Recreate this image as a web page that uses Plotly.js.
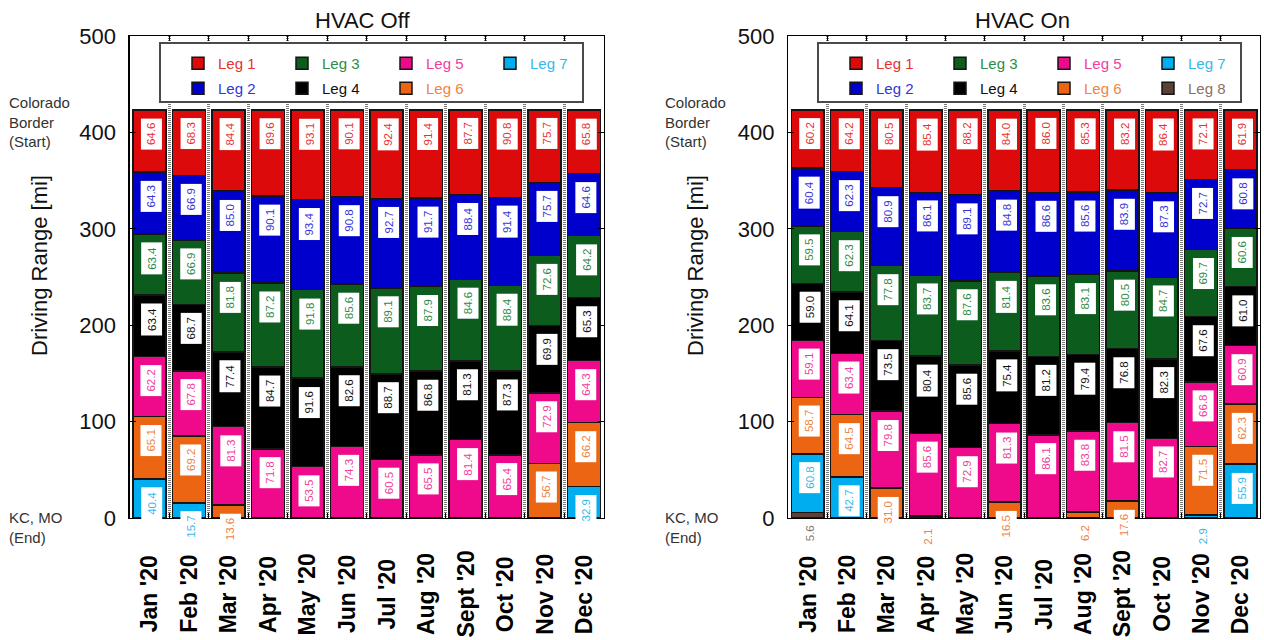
<!DOCTYPE html>
<html>
<head>
<meta charset="utf-8">
<script src="https://cdn.plot.ly/plotly-3.0.1.min.js"></script>
<style>
  html, body { margin: 0; padding: 0; background: #fff; }
  #chart { width: 1264px; height: 640px; }
</style>
</head>
<body>
<div id="chart"></div>
<script>
// Months of the trips
const months = ["Jan '20", "Feb '20", "Mar '20", "Apr '20", "May '20", "Jun '20",
                "Jul '20", "Aug '20", "Sept '20", "Oct '20", "Nov '20", "Dec '20"];
const legNames = ["Leg 1", "Leg 2", "Leg 3", "Leg 4", "Leg 5", "Leg 6", "Leg 7", "Leg 8"];

// Miles driven on each leg, HVAC off (null = leg not needed that month)
const offLeg1 = [64.6, 68.3, 84.4, 89.6, 93.1, 90.1, 92.4, 91.4, 87.7, 90.8, 75.7, 65.8];
const offLeg2 = [64.3, 66.9, 85.0, 90.1, 93.4, 90.8, 92.7, 91.7, 88.4, 91.4, 75.7, 64.6];
const offLeg3 = [63.4, 66.9, 81.8, 87.2, 91.8, 85.6, 89.1, 87.9, 84.6, 88.4, 72.6, 64.2];
const offLeg4 = [63.4, 68.7, 77.4, 84.7, 91.6, 82.6, 88.7, 86.8, 81.3, 87.3, 69.9, 65.3];
const offLeg5 = [62.2, 67.8, 81.3, 71.8, 53.5, 74.3, 60.5, 65.5, 81.4, 65.4, 72.9, 64.3];
const offLeg6 = [65.1, 69.2, 13.6, null, null, null, null, null, null, null, 56.7, 66.2];
const offLeg7 = [40.4, 15.7, null, null, null, null, null, null, null, null, null, 32.9];

// Miles driven on each leg, HVAC on
const onLeg1 = [60.2, 64.2, 80.5, 85.4, 88.2, 84.0, 86.0, 85.3, 83.2, 86.4, 72.1, 61.9];
const onLeg2 = [60.4, 62.3, 80.9, 86.1, 89.1, 84.8, 86.6, 85.6, 83.9, 87.3, 72.7, 60.8];
const onLeg3 = [59.5, 62.3, 77.8, 83.7, 87.6, 81.4, 83.6, 83.1, 80.5, 84.7, 69.7, 60.6];
const onLeg4 = [59.0, 64.1, 73.5, 80.4, 85.6, 75.4, 81.2, 79.4, 76.8, 82.3, 67.6, 61.0];
const onLeg5 = [59.1, 63.4, 79.8, 85.6, 72.9, 81.3, 86.1, 83.8, 81.5, 82.7, 66.8, 60.9];
const onLeg6 = [58.7, 64.5, 31.0, 2.1, null, 16.5, null, 6.2, 17.6, null, 71.5, 62.3];
const onLeg7 = [60.8, 42.7, null, null, null, null, null, null, null, null, 2.9, 55.9];
const onLeg8 = [5.6, null, null, null, null, null, null, null, null, null, null, null];

const offLegs = [offLeg1, offLeg2, offLeg3, offLeg4, offLeg5, offLeg6, offLeg7];
const onLegs = [onLeg1, onLeg2, onLeg3, onLeg4, onLeg5, onLeg6, onLeg7, onLeg8];

// Styling
const fillColors = ['#dc0a0a', '#0000cc', '#0b5c1d', '#000000', '#ee0a8a', '#ec6513', '#00aeef', '#5c4033'];
const textColors = ['#e8302f', '#3434dc', '#2e8b46', '#111111', '#f0409c', '#f0833f', '#35b8ee', '#8a7268'];
const FONT = 'Liberation Sans, Arial, Helvetica, sans-serif';
const W = 1264, H = 640;
const px = v => v / W;
const py = v => 1 - v / H;

// Stacked bars: Leg 1 sits on top (start of the drive), the last leg at the bottom
function buildTraces(legs, xa, ya, legendOdd, legendEven) {
  const traces = [];
  for (let k = legs.length - 1; k >= 0; k--) {
    traces.push({
      type: 'bar',
      x: months,
      y: legs[k],
      name: '<span style="color:' + textColors[k] + '">' + legNames[k] + '</span>',
      xaxis: xa, yaxis: ya,
      legend: (k % 2 === 0) ? legendOdd : legendEven,
      legendrank: k + 1,
      marker: { color: fillColors[k], line: { color: '#151515', width: 1.5 } },
      hoverinfo: 'skip'
    });
  }
  return traces;
}

// Value labels near the top of every segment
function segmentLabels(legs, xref, yref) {
  const anns = [];
  months.forEach((m, j) => {
    let top = 0;
    for (let k = legs.length - 1; k >= 0; k--) {
      const v = legs[k][j];
      if (v == null) continue;
      top += v;
      anns.push({
        xref: xref, yref: yref, x: m, y: top,
        xanchor: 'center', yanchor: 'top', xshift: 2, yshift: -8,
        textangle: -90, showarrow: false,
        text: v.toFixed(1),
        bgcolor: '#ffffff', borderpad: 4,
        font: { family: FONT, size: 11.5, color: textColors[k] }
      });
    }
  });
  return anns;
}

// Month names under each bar, centred on a common line
function monthLabels(xref) {
  return months.map(m => ({
    xref: xref, yref: 'paper', x: m, y: py(594),
    xanchor: 'center', yanchor: 'middle', textangle: -90, showarrow: false,
    text: '<b>' + m + '</b>',
    font: { family: FONT, size: 23, color: '#000' }
  }));
}

const data = buildTraces(offLegs, 'x', 'y', 'legend', 'legend3')
  .concat(buildTraces(onLegs, 'x2', 'y2', 'legend2', 'legend4'));

function xAxis(domain, anchor) {
  return {
    domain: domain, anchor: anchor, type: 'category',
    range: [-0.5, 11.5], tickson: 'boundaries',
    ticks: 'inside', ticklen: 5, tickcolor: '#000',
    showline: true, linecolor: '#000', linewidth: 1.2, mirror: 'ticks',
    showgrid: true, gridcolor: '#7a7a7a', gridwidth: 3, griddash: '1px,1px',
    showticklabels: false,
    fixedrange: true
  };
}
function yAxis(anchor) {
  return {
    domain: [py(518), py(36)], anchor: anchor,
    range: [0, 500], dtick: 100, tick0: 0,
    ticks: 'inside', ticklen: 6, tickcolor: '#000',
    showline: true, linecolor: '#000', linewidth: 1.2, mirror: 'ticks',
    showgrid: false, zeroline: false, ticklabelstandoff: 8,
    tickfont: { family: FONT, size: 22, color: '#111' },
    fixedrange: true
  };
}
function legendRow(xPix, yPix) {
  return {
    orientation: 'h', traceorder: 'normal',
    x: px(xPix), xanchor: 'left', y: py(yPix), yanchor: 'top',
    entrywidth: 59, bgcolor: 'rgba(0,0,0,0)', borderwidth: 0,
    font: { family: FONT, size: 15, color: '#111' },
    itemclick: false, itemdoubleclick: false
  };
}

const RIGHT = 656; // horizontal offset of the second panel's side texts

function sideTexts(dx) {
  const base = { xref: 'paper', yref: 'paper', showarrow: false, xanchor: 'left', align: 'left',
                 font: { family: FONT, size: 15, color: '#333' } };
  return [
    Object.assign({}, base, { x: px(7 + dx), y: py(122), yanchor: 'middle', text: 'Colorado<br>Border<br>(Start)' }),
    Object.assign({}, base, { x: px(7 + dx), y: py(527), yanchor: 'middle', text: 'KC, MO<br>(End)' }),
    { xref: 'paper', yref: 'paper', x: px(39 + dx), y: py(266), xanchor: 'center', yanchor: 'middle',
      textangle: -90, showarrow: false, text: 'Driving Range [mi]',
      font: { family: FONT, size: 22, color: '#111' } }
  ];
}

const titles = [
  { xref: 'paper', yref: 'paper', x: px(363), y: py(20), xanchor: 'center', yanchor: 'middle',
    showarrow: false, text: 'HVAC Off', font: { family: FONT, size: 22, color: '#111' } },
  { xref: 'paper', yref: 'paper', x: px(1022), y: py(20), xanchor: 'center', yanchor: 'middle',
    showarrow: false, text: 'HVAC On', font: { family: FONT, size: 22, color: '#111' } }
];

const legendBox = (x0, x1) => ({
  type: 'rect', xref: 'paper', yref: 'paper', layer: 'above',
  x0: px(x0), x1: px(x1), y0: py(102), y1: py(43),
  line: { color: '#4a4a4a', width: 2 }, fillcolor: '#ffffff'
});

const layout = {
  width: W, height: H,
  margin: { l: 0, r: 0, t: 0, b: 0 },
  paper_bgcolor: '#fff', plot_bgcolor: '#fff',
  barmode: 'stack', bargap: 0.165,
  showlegend: true,
  xaxis: xAxis([px(129.5), px(604)], 'y'),
  yaxis: yAxis('x'),
  xaxis2: xAxis([px(788), px(1260)], 'y2'),
  yaxis2: yAxis('x2'),
  legend: legendRow(178, 47),
  legend3: legendRow(178, 72),
  legend2: legendRow(178 + 658, 47),
  legend4: legendRow(178 + 658, 72),
  shapes: [legendBox(160, 583), legendBox(818, 1241)],
  annotations: titles
    .concat(sideTexts(0), sideTexts(RIGHT))
    .concat(monthLabels('x'), monthLabels('x2'))
    .concat(segmentLabels(offLegs, 'x', 'y'))
    .concat(segmentLabels(onLegs, 'x2', 'y2'))
};

Plotly.newPlot('chart', data, layout, { displayModeBar: false, staticPlot: true });
</script>
</body>
</html>
